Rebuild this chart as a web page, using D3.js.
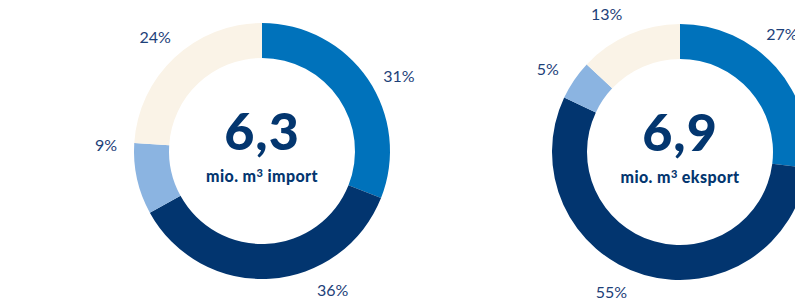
<!DOCTYPE html>
<html>
<head>
<meta charset="utf-8">
<script src="https://cdn.jsdelivr.net/npm/d3@7"></script>
<style>
  body { margin: 0; background: #fff; }
  svg { display: block; }
  .total { font-family: Lato, "Open Sans", sans-serif; font-weight: 900; fill: #03366f; }
  .sub { font-family: Lato, "Open Sans", sans-serif; font-weight: 900; fill: #03366f; }
  .pct { font-family: Lato, "Open Sans", sans-serif; font-weight: 400; fill: #1d4179; }
</style>
</head>
<body>
<div id="chart"></div>
<script>
// import / eksport shares, clockwise from 12 o'clock
var segments = ["a", "b", "c", "d"];
var importValues = [31, 36, 9, 24];
var exportValues = [27, 55, 5, 13];
var totals = ["6,3", "6,9"];
var subtitles = ["import", "eksport"];
// where along each slice the % label sits (0 = start, 1 = end)
var importLabelPos = [0.55, 0.32, 0.95, 0.5];
var exportLabelPos = [0.42, 0.55, 0.38, 0.4];

var svgWidth = 795, svgHeight = 301;
var outerR = 128, innerR = 93, labelR = 156;

var color = d3.scaleOrdinal()
  .domain(segments)
  .range(["#0072bb", "#02356f", "#8bb4e1", "#faf3e7"]);

var svg = d3.select("#chart")
  .append("svg")
  .attr("width", svgWidth)
  .attr("height", svgHeight);

var pie = d3.pie().sort(null).value(d => d.value);
var arc = d3.arc().innerRadius(innerR).outerRadius(outerR);

function donut(cx, cy, values, labelPos, total, subtitle) {
  var data = segments.map((s, i) => ({ key: s, value: values[i], pos: labelPos[i] }));
  var g = svg.append("g").attr("transform", `translate(${cx}, ${cy})`);

  g.selectAll("path")
    .data(pie(data))
    .enter()
    .append("path")
    .attr("d", arc)
    .attr("fill", d => color(d.data.key));

  g.selectAll(".pct")
    .data(pie(data))
    .enter()
    .append("text")
    .attr("class", "pct")
    .attr("x", d => {
      var a = d.startAngle + (d.endAngle - d.startAngle) * d.data.pos;
      return Math.sin(a) * labelR;
    })
    .attr("y", d => {
      var a = d.startAngle + (d.endAngle - d.startAngle) * d.data.pos;
      return -Math.cos(a) * labelR;
    })
    .attr("dy", "0.35em")
    .attr("text-anchor", "middle")
    .attr("font-size", "16px")
    .text(d => d.data.value + "%");

  g.append("text")
    .attr("class", "total")
    .attr("x", 0)
    .attr("y", -1)
    .attr("text-anchor", "middle")
    .attr("font-size", "52px")
    .attr("letter-spacing", "1px")
    .text(total);

  var sub = g.append("text")
    .attr("class", "sub")
    .attr("x", 0)
    .attr("y", 31)
    .attr("text-anchor", "middle")
    .attr("font-size", "16px")
    .attr("letter-spacing", "0.4px");
  sub.append("tspan").text("mio. m");
  sub.append("tspan").attr("font-size", "11px").attr("dy", "-5").text("3");
  sub.append("tspan").attr("dy", "5").text(" " + subtitle);
}

donut(262, 151, importValues, importLabelPos, totals[0], subtitles[0]);
donut(680, 152, exportValues, exportLabelPos, totals[1], subtitles[1]);
</script>
</body>
</html>
